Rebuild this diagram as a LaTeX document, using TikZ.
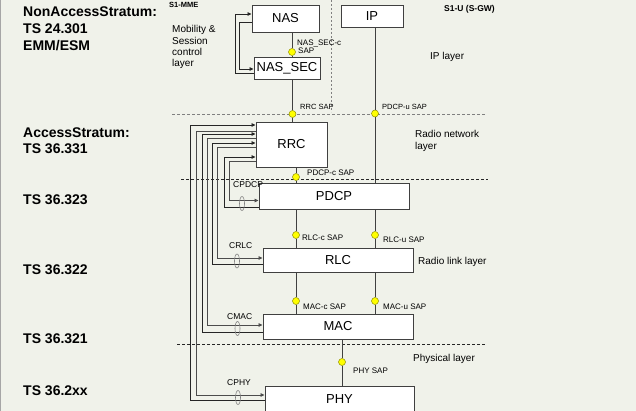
\documentclass[tikz,border=0pt]{standalone}
\usepackage{fontspec}
\setmainfont{Liberation Sans}
\usetikzlibrary{arrows.meta}
\definecolor{bg}{HTML}{F0F2EA}
\definecolor{sapfill}{HTML}{FFFF00}
\definecolor{sapedge}{HTML}{8C8C00}
\definecolor{boxedge}{HTML}{404040}
\begin{document}
\begin{tikzpicture}[x=1pt,y=-1pt,
  layerbox/.style={draw=boxedge, fill=white, line width=0.9pt, inner sep=0pt, font=\fontsize{13}{15}\selectfont},
  sap/.style={circle, fill=sapfill, draw=sapedge, line width=0.5pt, minimum size=7pt, inner sep=0pt},
  link/.style={draw=boxedge, line width=0.9pt},
  ctl/.style={draw=black!85, line width=0.8pt},
  ctlarrow/.style={ctl, -{Triangle[length=4pt,width=3.5pt]}},
  oval/.style={draw=gray, line width=0.6pt},
  title/.style={font=\bfseries\fontsize{14}{17}\selectfont, anchor=base west, inner sep=0pt},
  small/.style={font=\fontsize{8}{9}\selectfont, anchor=base west, inner sep=0pt},
  smallbold/.style={font=\bfseries\fontsize{8}{9}\selectfont, anchor=base west, inner sep=0pt},
  layertxt/.style={font=\fontsize{10}{11.5}\selectfont, anchor=base west, inner sep=0pt},
  ctltxt/.style={font=\fontsize{8.5}{10}\selectfont, anchor=base west, inner sep=0pt},
  graydash/.style={draw=gray, line width=0.7pt, dash pattern=on 3pt off 2pt},
  blackdash/.style={draw=black!85, line width=0.8pt, dash pattern=on 3pt off 2pt}
]
\fill[bg] (0,0) rectangle (636,411);
\useasboundingbox (0,0) rectangle (636,411);
\clip (0,0) rectangle (636,411);
\draw[gray!70, line width=1.2pt] (0.6,0) -- (0.6,411);

% left titles
\node[title] (t1) at (23,17) {NonAccessStratum:};
\node[title] (t2) at (23,34) {TS 24.301};
\node[title] (t3) at (23,51) {EMM/ESM};
\node[title] (t4) at (23,138) {AccessStratum:};
\node[title] (t5) at (23,154) {TS 36.331};
\node[title] (t6) at (23,205) {TS 36.323};
\node[title] (t7) at (23,274) {TS 36.322};
\node[title] (t8) at (23,343) {TS 36.321};
\node[title] (t9) at (23,395) {TS 36.2xx};

% layer descriptions
\node[smallbold, font=\bfseries\fontsize{7.5}{9}\selectfont] (s1mme) at (169,7.5) {S1-MME};
\node[smallbold, font=\bfseries\fontsize{8.5}{10}\selectfont] (s1u) at (444,11.5) {S1-U (S-GW)};
\node[layertxt] (m1) at (172,33) {Mobility \&};
\node[layertxt] (m2) at (172,44.5) {Session};
\node[layertxt] (m3) at (172,56) {control};
\node[layertxt] (m4) at (172,67) {layer};
\node[layertxt] (iplayer) at (430,59.5) {IP layer};
\node[layertxt] (rn1) at (415,138) {Radio network};
\node[layertxt] (rn2) at (415,150) {layer};
\node[layertxt] (rll) at (418,264.5) {Radio link layer};
\node[layertxt] (phl) at (413,361) {Physical layer};

% separators
\draw[graydash, dash pattern=on 2pt off 2pt] (331,0) -- (331,112);
\draw[graydash] (172,114) -- (485,114);
\draw[blackdash] (181,179) -- (488,179);
\draw[blackdash] (177,344) -- (486,344);

% boxes
\node[layerbox, minimum width=67pt, minimum height=27pt] (NAS) at (285.5,18.5) {NAS};
\node[layerbox, minimum width=66pt, minimum height=22pt] (NASSEC) at (287,68) {NAS\_SEC};
\node[layerbox, minimum width=62pt, minimum height=22pt] (IP) at (372,16) {IP};
\node[layerbox, minimum width=71pt, minimum height=45pt] (RRC) at (291.5,144.5) {RRC};
\node[layerbox, minimum width=150pt, minimum height=26pt] (PDCP) at (334,196) {PDCP};
\node[layerbox, minimum width=150pt, minimum height=24pt] (RLC) at (338,260) {RLC};
\node[layerbox, minimum width=150pt, minimum height=25pt] (MAC) at (338,326.5) {MAC};
\node[layerbox, minimum width=149pt, minimum height=26pt] (PHY) at (339.5,399) {PHY};

% SAPs
\node[sap] (sNASSEC) at (292,52) {};
\node[sap] (sRRC) at (292.5,114) {};
\node[sap] (sPDCPu) at (375,113.5) {};
\node[sap] (sPDCPc) at (296,177) {};
\node[sap] (sRLCc) at (296,235) {};
\node[sap] (sRLCu) at (375,235) {};
\node[sap] (sMACc) at (296,301) {};
\node[sap] (sMACu) at (375,301) {};
\node[sap] (sPHY) at (342,362) {};

% SAP labels
\node[small] (lNASSEC) at (297,45.5) {NAS\_SEC-c};
\node[small] (lNASSEC2) at (298,54) {SAP};
\node[small, font=\fontsize{7.5}{9}\selectfont] (lRRC) at (300,110) {RRC SAP};
\node[small, font=\fontsize{7.5}{9}\selectfont] (lPDCPu) at (382,110) {PDCP-u SAP};
\node[small] (lPDCPc) at (307,176) {PDCP-c SAP};
\node[small] (lRLCc) at (302,241) {RLC-c SAP};
\node[small] (lRLCu) at (383,243) {RLC-u SAP};
\node[small] (lMACc) at (303,309) {MAC-c SAP};
\node[small] (lMACu) at (383,309) {MAC-u SAP};
\node[small] (lPHY) at (353,373) {PHY SAP};

% vertical links
\draw[link] (NAS.south -| sNASSEC) -- (sNASSEC);
\draw[link] (sNASSEC) -- (NASSEC.north -| sNASSEC);
\draw[link] (NASSEC.south -| sRRC) -- (sRRC);
\draw[link] (sRRC) -- (RRC.north -| sRRC);
\draw[link] (IP.south -| sPDCPu) -- (sPDCPu);
\draw[link] (sPDCPu) -- (PDCP.north -| sPDCPu);
\draw[link] (RRC.south -| sPDCPc) -- (sPDCPc);
\draw[link] (sPDCPc) -- (PDCP.north -| sPDCPc);
\draw[link] (PDCP.south -| sRLCc) -- (sRLCc);
\draw[link] (sRLCc) -- (RLC.north -| sRLCc);
\draw[link] (PDCP.south -| sRLCu) -- (sRLCu);
\draw[link] (sRLCu) -- (RLC.north -| sRLCu);
\draw[link] (RLC.south -| sMACc) -- (sMACc);
\draw[link] (sMACc) -- (MAC.north -| sMACc);
\draw[link] (RLC.south -| sMACu) -- (sMACu);
\draw[link] (sMACu) -- (MAC.north -| sMACu);
\draw[link] (MAC.south -| sPHY) -- (sPHY);
\draw[link] (sPHY) -- (PHY.north -| sPHY);

% NAS loop
\draw[ctlarrow] (NASSEC.west |- 0,73.5) -| (235,14) -- (NAS.west |- 0,14);
\draw[ctlarrow] (NAS.west |- 0,22) -| (239,69) -- (NASSEC.west |- 0,69);

% control links
\draw[ctlarrow] (PHY.west |- 0,400.5) -| (190.5,125) -- (RRC.west |- 0,125);
\draw[ctlarrow, draw=black!70] (RRC.west |- 0,131) -| (196,395) -- (PHY.west |- 0,395);
\draw[ctlarrow] (MAC.west |- 0,332) -| (202,134) -- (RRC.west |- 0,134);
\draw[ctlarrow, draw=black!70] (RRC.west |- 0,138) -| (207,325) -- (MAC.west |- 0,325);
\draw[ctlarrow] (RLC.west |- 0,264) -| (212,143) -- (RRC.west |- 0,143);
\draw[ctlarrow, draw=black!70] (RRC.west |- 0,147) -| (217,258) -- (RLC.west |- 0,258);
\draw[ctlarrow] (PDCP.west |- 0,207) -| (224,157) -- (RRC.west |- 0,157);
\draw[ctlarrow, draw=black!70] (RRC.west |- 0,161.5) -| (229,200.5) -- (PDCP.west |- 0,200.5);

% ovals
\draw[oval] (238,397.5) ellipse [x radius=2.5, y radius=7];
\draw[oval] (237.5,328.5) ellipse [x radius=2.5, y radius=7];
\draw[oval] (237,261) ellipse [x radius=2.5, y radius=7];
\draw[oval] (242,203.5) ellipse [x radius=2.5, y radius=7];

% control labels
\node[ctltxt] (cphy) at (227,385) {CPHY};
\node[ctltxt] (cmac) at (227,319) {CMAC};
\node[ctltxt] (crlc) at (229,248) {CRLC};
\node[ctltxt] (cpdcp) at (233,187.5) {CPDCP};
\end{tikzpicture}
\end{document}
